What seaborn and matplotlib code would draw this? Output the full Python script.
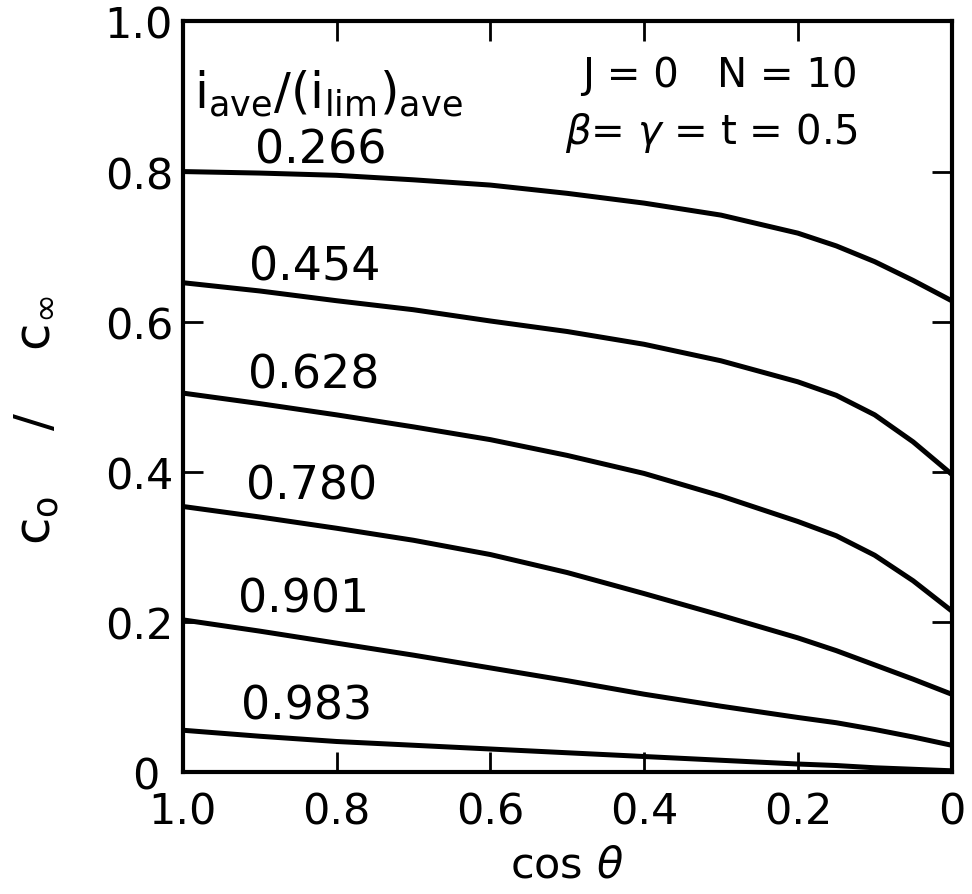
import numpy as np
import pandas as pd
import matplotlib
matplotlib.use("Agg")
import matplotlib.pyplot as plt
import matplotlib.transforms as mtransforms
import seaborn as sns

# cos(theta) sample positions
cos_theta = [1.0, 0.9, 0.8, 0.7, 0.6, 0.5, 0.4, 0.3, 0.2, 0.15, 0.1, 0.05, 0.0]

# c_o / c_inf for each i_ave/(i_lim)_ave
curve_labels = ["0.266", "0.454", "0.628", "0.780", "0.901", "0.983"]
c_0266 = [0.800, 0.798, 0.795, 0.789, 0.782, 0.771, 0.758, 0.742, 0.718, 0.701, 0.680, 0.655, 0.628]
c_0454 = [0.652, 0.641, 0.628, 0.616, 0.601, 0.587, 0.570, 0.548, 0.520, 0.502, 0.476, 0.440, 0.397]
c_0628 = [0.505, 0.491, 0.476, 0.460, 0.443, 0.422, 0.398, 0.368, 0.334, 0.315, 0.289, 0.255, 0.215]
c_0780 = [0.354, 0.340, 0.325, 0.309, 0.290, 0.266, 0.238, 0.209, 0.179, 0.162, 0.143, 0.124, 0.104]
c_0901 = [0.203, 0.188, 0.172, 0.156, 0.139, 0.122, 0.104, 0.088, 0.073, 0.066, 0.057, 0.047, 0.036]
c_0983 = [0.056, 0.048, 0.041, 0.036, 0.031, 0.026, 0.021, 0.016, 0.011, 0.009, 0.006, 0.004, 0.002]
series = [c_0266, c_0454, c_0628, c_0780, c_0901, c_0983]

# label anchors (data coords) for each curve
label_x = [0.820, 0.828, 0.830, 0.832, 0.843, 0.839]
label_y = [0.829, 0.673, 0.529, 0.381, 0.231, 0.088]

x_ticks = [1.0, 0.8, 0.6, 0.4, 0.2, 0.0]
x_ticklabels = ["1.0", "0.8", "0.6", "0.4", "0.2", "0"]
y_ticks = [0.0, 0.2, 0.4, 0.6, 0.8, 1.0]
y_ticklabels = ["0", "0.2", "0.4", "0.6", "0.8", "1.0"]

rows = []
for lab, vals in zip(curve_labels, series):
    for x, y in zip(cos_theta, vals):
        rows.append({"cos": x, "c": y, "ratio": lab})
df = pd.DataFrame(rows)

sns.set_theme(style="white")
plt.rcParams["font.family"] = ["DejaVu Sans"]
plt.rcParams["mathtext.fontset"] = "dejavusans"
plt.rcParams["text.color"] = "black"
plt.rcParams["axes.labelcolor"] = "black"

fig = plt.figure(figsize=(9.72, 8.95), dpi=100)
ax = fig.add_axes([0.188, 0.136, 0.791, 0.839])

sns.lineplot(data=df, x="cos", y="c", hue="ratio", palette=["black"] * 6,
             linewidth=3.6, legend=False, ax=ax, sort=False)

ax.set_xlim(1.0, 0.0)
ax.set_ylim(0.0, 1.0)
ax.set_xticks(x_ticks)
ax.set_xticklabels(x_ticklabels)
ax.set_yticks(y_ticks)
ax.set_yticklabels(y_ticklabels)

for s in ax.spines.values():
    s.set_visible(True)
    s.set_linewidth(3.0)
    s.set_color("black")

ax.tick_params(axis="both", which="major", direction="in", length=14.5, width=2.0,
               top=True, right=True, bottom=True, left=True,
               labelsize=31, colors="black")
ax.tick_params(axis="x", pad=13)
ax.tick_params(axis="y", pad=7)

# the "0" on the y axis sits a bit further left in the original
offset = mtransforms.ScaledTranslation(-14 / 100, 0, fig.dpi_scale_trans)
ylabels = ax.get_yticklabels()
ylabels[0].set_transform(ylabels[0].get_transform() + offset)

ax.set_xlabel(r"cos $\theta$", fontsize=31, color="black")
ax.xaxis.set_label_coords(0.500, -0.095)
ax.set_ylabel(r"c$_{\mathrm{o}}$    /    c$_{\infty}$", fontsize=36, color="black")
ax.yaxis.set_label_coords(-0.158, 0.47)

for lab, lx, ly in zip(curve_labels, label_x, label_y):
    ax.text(lx, ly, lab, fontsize=33, ha="center", va="center", color="black")

ax.text(0.985, 0.905, r"i$_{\mathrm{ave}}$/(i$_{\mathrm{lim}}$)$_{\mathrm{ave}}$",
        fontsize=36, ha="left", va="center", color="black")
ax.text(0.302, 0.928, "J = 0   N = 10", fontsize=29, ha="center", va="center", color="black")
ax.text(0.312, 0.853, r"$\beta$= $\gamma$ = t = 0.5", fontsize=29, ha="center", va="center", color="black")

fig.savefig("out.png", dpi=100, facecolor="white")
